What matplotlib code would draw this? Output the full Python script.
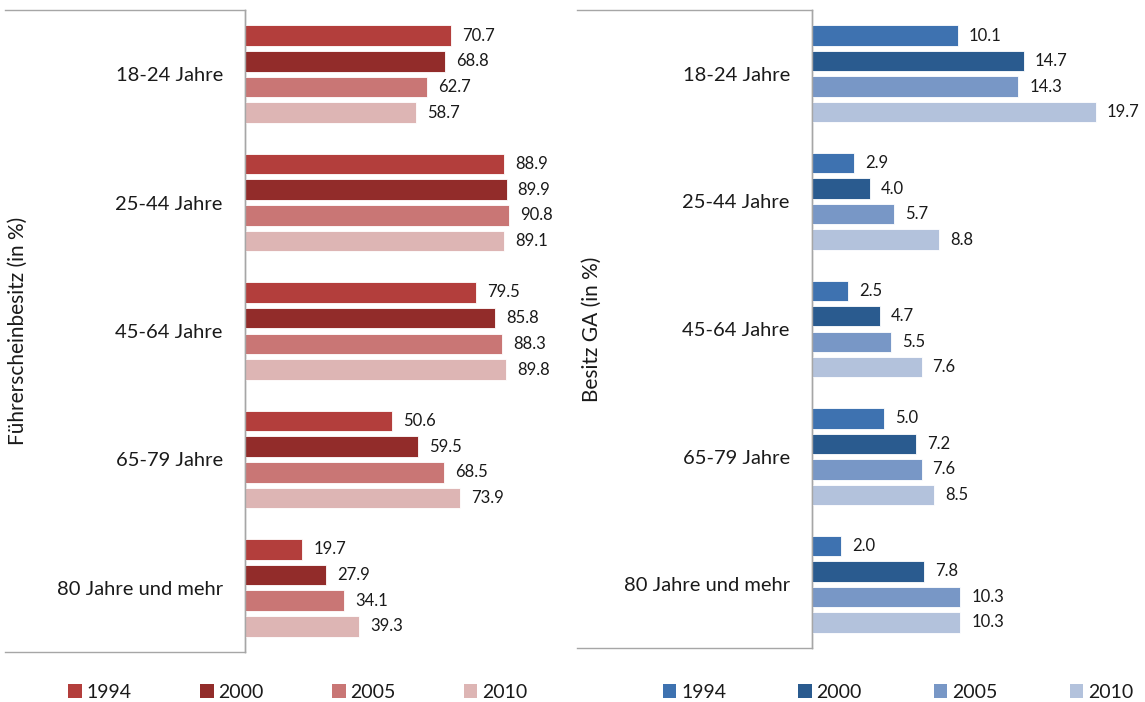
import numpy as np
import matplotlib
matplotlib.use("Agg")
import matplotlib.pyplot as plt
from matplotlib.patches import Patch

plt.rcParams['font.family'] = ['Lato', 'DejaVu Sans']

# Age groups and survey years
age_groups = ['18-24 Jahre', '25-44 Jahre', '45-64 Jahre', '65-79 Jahre', '80 Jahre und mehr']
years = ['1994', '2000', '2005', '2010']

# Driving licence ownership (in %), one list per year
licence_1994 = [70.7, 88.9, 79.5, 50.6, 19.7]
licence_2000 = [68.8, 89.9, 85.8, 59.5, 27.9]
licence_2005 = [62.7, 90.8, 88.3, 68.5, 34.1]
licence_2010 = [58.7, 89.1, 89.8, 73.9, 39.3]

# General travelcard (GA) ownership (in %), one list per year
ga_1994 = [10.1, 2.9, 2.5, 5.0, 2.0]
ga_2000 = [14.7, 4.0, 4.7, 7.2, 7.8]
ga_2005 = [14.3, 5.7, 5.5, 7.6, 10.3]
ga_2010 = [19.7, 8.8, 7.6, 8.5, 10.3]

reds = ['#B33E3C', '#922C2A', '#C97675', '#DDB5B4']
blues = ['#3E72B0', '#2A5B8F', '#7897C6', '#B3C2DC']

W, H = 1145, 702
fig = plt.figure(figsize=(W / 100, H / 100), dpi=100)

TEXT = '#1A1A1A'
FRAME = '#A6A6A6'


def px_axes(x0, y0, x1, y1):
    # axes from pixel box (top-left origin)
    return fig.add_axes([x0 / W, 1 - y1 / H, (x1 - x0) / W, (y1 - y0) / H])


def draw_panel(series, colors, frame_box, bar_box, xmax, ylabel, ylabel_x,
               legend_center, colspace):
    # white box behind the category labels
    fx = px_axes(*frame_box)
    fx.set_xticks([])
    fx.set_yticks([])
    fx.spines['left'].set_visible(False)
    for s in ('top', 'bottom', 'right'):
        fx.spines[s].set_color(FRAME)
        fx.spines[s].set_linewidth(1.0)

    ax = px_axes(*bar_box)
    ax.patch.set_alpha(0)
    n = len(age_groups)
    y = np.arange(n)
    step = 0.2
    height = 0.16
    for i, (vals, col) in enumerate(zip(series, colors)):
        pos = y + (i - 1.5) * step
        bars = ax.barh(pos, vals, height=height, color=col,
                       edgecolor='white', linewidth=0.6)
        ax.bar_label(bars, labels=[f'{v:.1f}' for v in vals], padding=8,
                     fontsize=12, color=TEXT)
    ax.set_xlim(0, xmax)
    ax.set_ylim(n - 0.5, -0.5)
    ax.set_yticks(y)
    ax.set_yticklabels(age_groups, fontsize=14.5, color=TEXT)
    ax.tick_params(axis='y', length=0, pad=16)
    ax.set_xticks([])
    for s in ('top', 'right', 'bottom'):
        ax.spines[s].set_visible(False)
    ax.spines['left'].set_color(FRAME)
    ax.spines['left'].set_linewidth(1.0)

    yc = (bar_box[1] + bar_box[3]) / 2
    fig.text(ylabel_x / W, 1 - yc / H, ylabel, rotation=90, fontsize=15,
             color=TEXT, ha='center', va='center')

    handles = [Patch(facecolor=c, edgecolor='none') for c in colors]
    fig.legend(handles, years, loc='center', ncol=4, frameon=False,
               bbox_to_anchor=(legend_center / W, 1 - 692 / H),
               fontsize=14, handlelength=0.7, handleheight=0.7,
               handletextpad=0.25, columnspacing=colspace, labelcolor=TEXT)


draw_panel([licence_1994, licence_2000, licence_2005, licence_2010], reds,
           (5, 10, 245, 652), (245, 10, 536, 652), 100,
           'Führerscheinbesitz (in %)', 18, 298, 3.5)
draw_panel([ga_1994, ga_2000, ga_2005, ga_2010], blues,
           (577, 10, 812, 648), (812, 10, 1129, 648), 22,
           'Besitz GA (in %)', 592, 898, 3.7)

fig.savefig('out.png', dpi=100, facecolor='white')
